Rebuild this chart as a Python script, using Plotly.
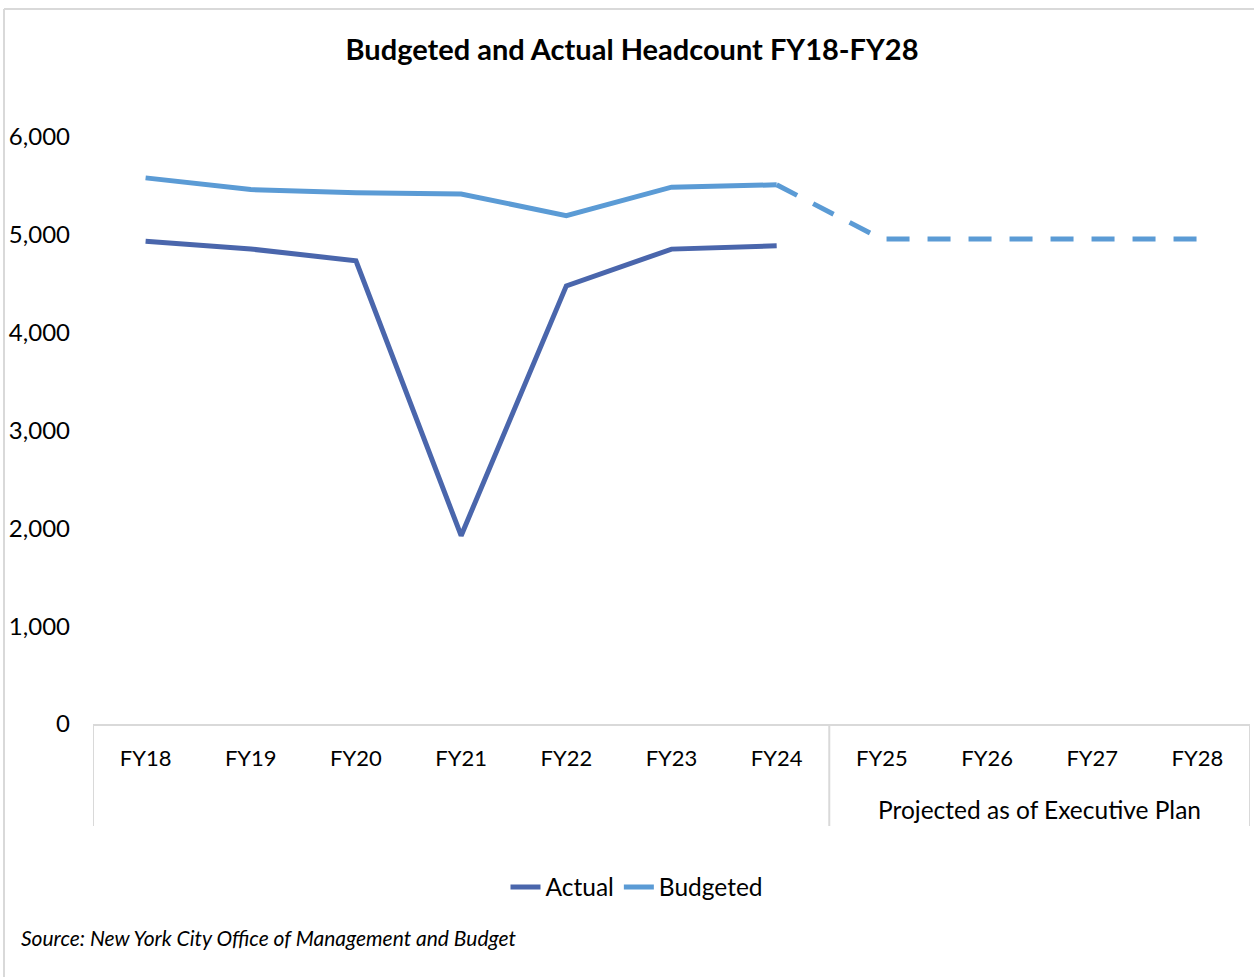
import plotly.graph_objects as go

categories = ["FY18", "FY19", "FY20", "FY21", "FY22", "FY23", "FY24", "FY25", "FY26", "FY27", "FY28"]
actual = [4935, 4855, 4735, 1925, 4478, 4854, 4888]
budgeted = [5582, 5463, 5429, 5418, 5196, 5487, 5511, 4957, 4957, 4957, 4957]
yticks = [0, 1000, 2000, 3000, 4000, 5000, 6000]
group_label = "Projected as of Executive Plan"
n_actual_years = 7

FONT = "Lato"
C_ACT = "#4A66AC"
C_BUD = "#5B9BD5"
GRID = "#D9D9D9"

W, H = 1254, 977
L, R, T, B = 93, 4, 137, 253
pw = W - L - R
ph = H - T - B

def px_x(px):
    return (px - L) / pw

def px_y(py):
    return (H - B - py) / ph

xs = list(range(len(categories)))

fig = go.Figure()
fig.add_trace(go.Scatter(
    x=xs[:len(actual)], y=actual, mode="lines", name="Actual",
    line=dict(color=C_ACT, width=5)))
fig.add_trace(go.Scatter(
    x=xs[:n_actual_years], y=budgeted[:n_actual_years], mode="lines", name="Budgeted",
    line=dict(color=C_BUD, width=5)))
fig.add_trace(go.Scatter(
    x=xs[n_actual_years - 1:], y=budgeted[n_actual_years - 1:], mode="lines",
    showlegend=False, line=dict(color=C_BUD, width=5, dash="23px,18px")))

shapes = []
for xb in [-0.5, n_actual_years - 0.5, len(categories) - 0.5]:
    shapes.append(dict(type="line", xref="x", yref="paper", x0=xb, x1=xb,
                       y0=0, y1=px_y(826), line=dict(color=GRID, width=2)))
# outer chart border (top and left)
shapes.append(dict(type="line", xref="paper", yref="paper", x0=px_x(4), x1=px_x(1254),
                   y0=px_y(9), y1=px_y(9), line=dict(color=GRID, width=2)))
shapes.append(dict(type="line", xref="paper", yref="paper", x0=px_x(4), x1=px_x(4),
                   y0=px_y(9), y1=px_y(977), line=dict(color=GRID, width=2)))

annotations = [
    dict(text=group_label, xref="x", yref="paper",
         x=(n_actual_years + len(categories) - 1) / 2, y=px_y(810),
         showarrow=False, xanchor="center", yanchor="middle",
         font=dict(family=FONT, size=24.5, color="#000000")),
    dict(text="<i>Source: New York City Office of Management and Budget</i>",
         xref="paper", yref="paper", x=px_x(19), y=px_y(937),
         showarrow=False, xanchor="left", yanchor="middle",
         font=dict(family=FONT, size=21, color="#000000")),
]

fig.update_layout(
    width=W, height=H,
    margin=dict(l=L, r=R, t=T, b=B),
    paper_bgcolor="white", plot_bgcolor="white",
    title=dict(text="<b>Budgeted and Actual Headcount FY18-FY28</b>",
               x=632 / W, xref="container", xanchor="center",
               y=1 - 50 / H, yref="container", yanchor="middle",
               font=dict(family=FONT, size=29, color="#000000")),
    font=dict(family=FONT, size=23, color="#000000"),
    xaxis=dict(range=[-0.5, len(categories) - 0.5], tickvals=xs, ticktext=categories,
               showgrid=False, zeroline=False, showline=True, linecolor=GRID, linewidth=2,
               ticks="", ticklabelstandoff=14,
               tickfont=dict(family=FONT, size=22, color="#000000")),
    yaxis=dict(range=[0, 6000], tickvals=yticks, tickformat=",d",
               showgrid=False, zeroline=False, showline=False, ticks="",
               ticklabelstandoff=22,
               tickfont=dict(family=FONT, size=24, color="#000000")),
    legend=dict(orientation="h", x=px_x(637), xanchor="center", y=px_y(887), yanchor="middle",
                font=dict(family=FONT, size=24.5, color="#000000"),
                itemwidth=30, tracegroupgap=0, bgcolor="rgba(0,0,0,0)"),
    shapes=shapes, annotations=annotations,
)

fig.write_html(
    "out.html",
    config={"displayModeBar": False},
    post_script="document.body.style.margin='0';document.body.style.overflow='hidden';",
)
